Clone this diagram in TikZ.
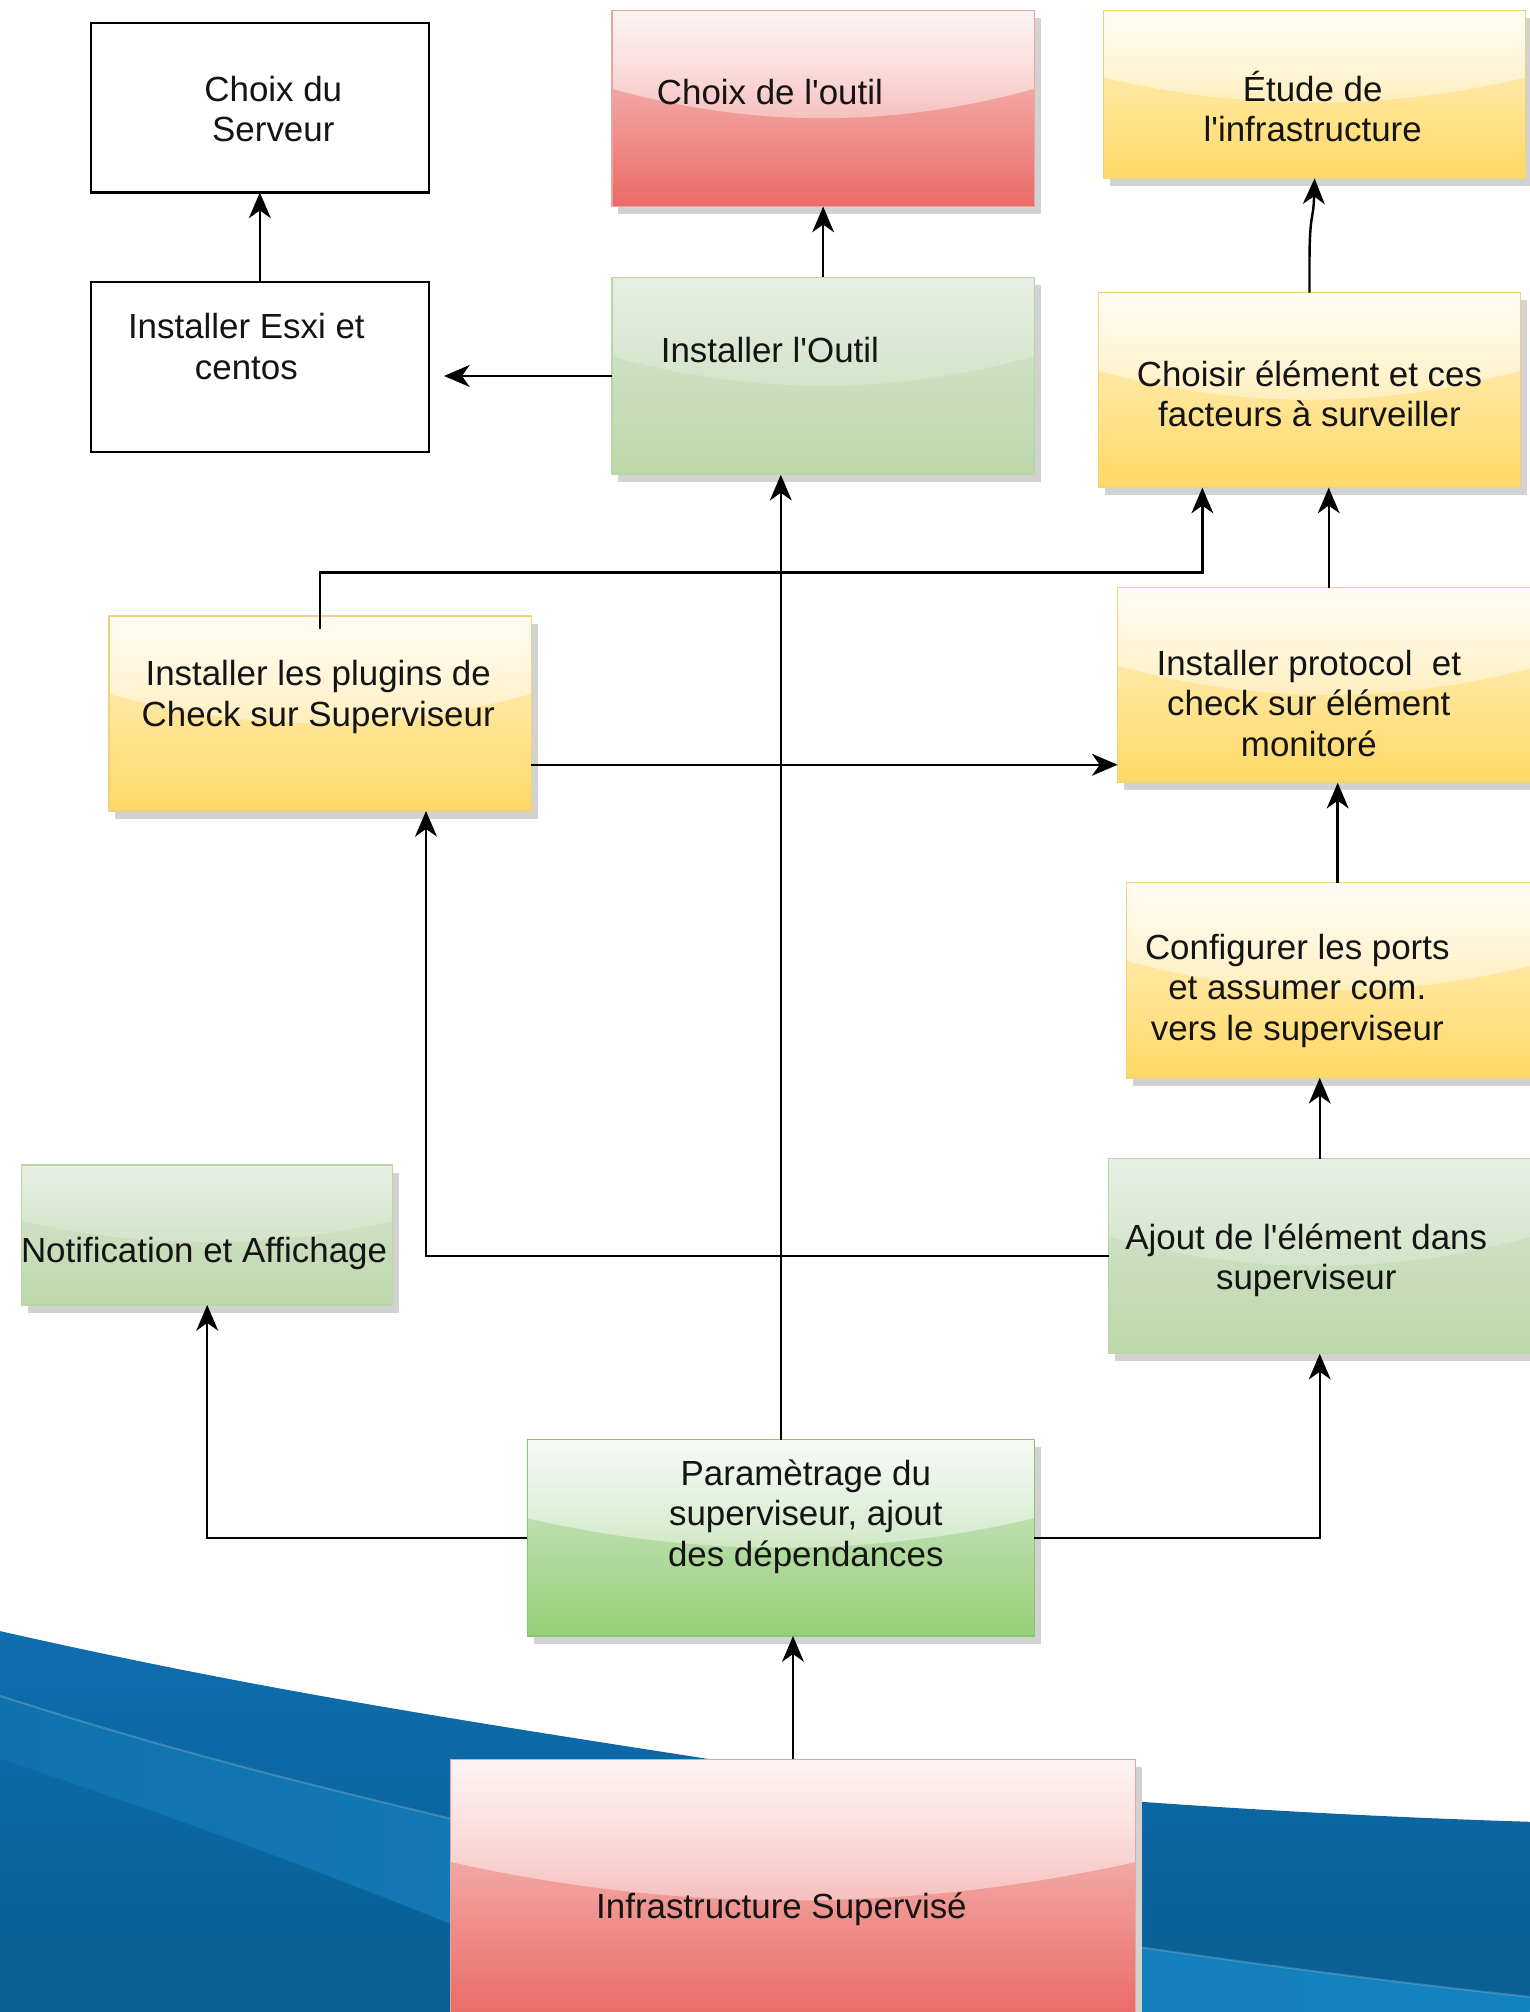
\documentclass[tikz,border=0pt]{standalone}
\usepackage{fontspec}
\setmainfont{Liberation Sans}
\usetikzlibrary{calc,arrows.meta,shadows,fadings}

% box colours (top of gradient, bottom of gradient, border)
\definecolor{redA}{HTML}{F8CECC}
\definecolor{redB}{HTML}{EA6B66}
\definecolor{redLine}{HTML}{E8A4A1}
\definecolor{yelA}{HTML}{FFF2CC}
\definecolor{yelB}{HTML}{FFD966}
\definecolor{yelLine}{HTML}{EED27E}
\definecolor{grnA}{HTML}{D5E8D4}
\definecolor{grnB}{HTML}{97D077}
\definecolor{grnLine}{HTML}{8DC073}
\definecolor{paleA}{HTML}{DAE5D5}
\definecolor{paleB}{HTML}{BCD8AA}
\definecolor{paleLine}{HTML}{B6D6A4}
\definecolor{shadowgrey}{HTML}{D2D2D2}
% background wave
\definecolor{seaTop}{HTML}{0E6EAF}
\definecolor{seaBot}{HTML}{0A5D91}
\definecolor{bandL}{HTML}{1173AD}
\definecolor{bandR}{HTML}{1383BF}

\tikzfading[name=glassfade, top color=transparent!10, bottom color=transparent!90]

\tikzset{
  base/.style={rectangle, inner sep=0pt, outer sep=0pt},
  plainbox/.style={base, draw=black, line width=0.8pt, fill=white},
  glassbox/.style n args={3}{base, draw=#3, line width=0.5pt,
    top color=#1, bottom color=#2,
    drop shadow={fill=shadowgrey, opacity=1, shadow xshift=2.5pt, shadow yshift=-3pt}},
  glass/.style={path picture={
    \fill[white, path fading=glassfade, fill opacity=#1]
      let \p1=(path picture bounding box.south west),
          \p2=(path picture bounding box.north east) in
      (\x1,\y2) -- (\x2,\y2) -- (\x2,{\y2-0.4*(\y2-\y1)})
      .. controls ({\x2-(\x2-\x1)/3},{\y2-0.6*(\y2-\y1)})
             and ({\x1+(\x2-\x1)/3},{\y2-0.6*(\y2-\y1)}) ..
      (\x1,{\y2-0.4*(\y2-\y1)}) -- cycle;
  }},
  redbox/.style={glassbox={redA}{redB}{redLine}, glass=0.85},
  yelbox/.style={glassbox={yelA}{yelB}{yelLine}, glass=0.85},
  grnbox/.style={glassbox={grnA}{grnB}{grnLine}, glass=0.85},
  palebox/.style={glassbox={paleA}{paleB}{paleLine}, glass=0.4},
  caption/.style={font=\fontsize{13.6}{15.8}\selectfont, align=center,
    text=black!92, inner sep=0pt},
  link/.style={line width=0.95pt, -{Stealth[length=10pt,width=8.5pt,inset=3pt]}},
}

\begin{document}
\begin{tikzpicture}[x=0.5pt, y=-0.5pt]
\useasboundingbox (0,0) rectangle (1192,1568);

% blue wave at the foot of the page
\begin{scope}
  \clip (0,0) rectangle (1192,1568);
  \shade[top color=seaTop, bottom color=seaBot]
    (-5,1270) .. controls (180,1312) and (320,1335) .. (560,1372)
    .. controls (760,1398) and (1000,1414) .. (1200,1420)
    -- (1200,1580) -- (-5,1580) -- cycle;
  \shade[left color=bandL, right color=bandR]
    (-5,1320) .. controls (150,1370) and (260,1395) .. (358,1419)
    .. controls (600,1475) and (900,1525) .. (1200,1557)
    -- (1200,1650) -- (700,1650)
    .. controls (420,1520) and (180,1430) .. (-5,1369) -- cycle;
  \draw[white, opacity=0.18, line width=0.8pt]
    (-5,1320) .. controls (150,1370) and (260,1395) .. (358,1419)
    .. controls (600,1475) and (900,1525) .. (1200,1557);
\end{scope}

% steps
\node[plainbox, minimum width=131.5pt, minimum height=66pt,
  label={[caption, xshift=5.25pt, yshift=-0.5pt]center:Choix du\\Serveur}]
  (serveur) at (202.5,84) {};
\node[plainbox, minimum width=131.5pt, minimum height=66pt,
  label={[caption, xshift=-5.25pt, yshift=8pt]center:Installer Esxi et\\centos}]
  (esxi) at (202.5,286) {};
\node[redbox, minimum width=164.5pt, minimum height=76.5pt,
  label={[caption, xshift=-20.75pt, yshift=6.25pt]center:Choix de l\textquotesingle outil}]
  (choixoutil) at (641.5,84.5) {};
\node[palebox, minimum width=164.5pt, minimum height=77pt,
  label={[caption, xshift=-20.75pt, yshift=10pt]center:Installer l\textquotesingle Outil}]
  (instoutil) at (641.5,293) {};
\node[yelbox, minimum width=164.5pt, minimum height=65.5pt,
  label={[caption, xshift=-0.75pt, yshift=-4.75pt]center:Étude de\\l\textquotesingle infrastructure}]
  (etude) at (1024.5,73.5) {};
\node[yelbox, minimum width=164.5pt, minimum height=76pt,
  label={[caption, xshift=0pt, yshift=-1.5pt]center:Choisir élément et ces\\facteurs à surveiller}]
  (choisir) at (1020.5,304) {};
\node[yelbox, minimum width=164.5pt, minimum height=76pt,
  label={[caption, xshift=-0.75pt, yshift=6.5pt]center:Installer les plugins de\\Check sur Superviseur}]
  (plugins) at (249.5,556) {};
\node[yelbox, minimum width=164.5pt, minimum height=76pt,
  label={[caption, xshift=-7.75pt, yshift=-7pt]center:Installer protocol\ \ et\\check sur élément\\monitoré}]
  (protocol) at (1035.5,534) {};
\node[yelbox, minimum width=164.5pt, minimum height=76pt,
  label={[caption, xshift=-15.75pt, yshift=-4pt]center:Configurer les ports\\et assumer com.\\vers le superviseur}]
  (config) at (1042.5,764) {};
\node[palebox, minimum width=144.5pt, minimum height=54.5pt,
  label={[caption, xshift=-1.25pt, yshift=-7.25pt]center:Notification et Affichage}]
  (notif) at (161.5,962.5) {};
\node[palebox, minimum width=164.5pt, minimum height=76pt,
  label={[caption, xshift=-5.25pt, yshift=-1.5pt]center:Ajout de l\textquotesingle élément dans\\superviseur}]
  (ajout) at (1028.5,979) {};
\node[grnbox, minimum width=197.5pt, minimum height=76.5pt,
  label={[caption, xshift=9.75pt, yshift=8.25pt]center:Paramètrage du\\superviseur, ajout\\des dépendances}]
  (param) at (608.5,1198.5) {};
\node[redbox, minimum width=267pt, minimum height=100pt,
  label={[caption, xshift=-4.5pt, yshift=-8.5pt]center:Infrastructure Supervisé}]
  (infra) at (618,1471) {};

% routing helpers
\coordinate (rowA) at (0,596);
\coordinate (rowB) at (0,446);
\coordinate (colA) at (332,0);
\coordinate (colB) at (937,0);
\coordinate (esxiIn) at ($(esxi.east |- instoutil.west)+(12,0)$);
\coordinate (pluginsTop) at ($(plugins.north)+(0,10)$);

% connectors
\draw[link] (esxi.north) -- (serveur.south);
\draw[link] (instoutil.west) -- (esxiIn);
\draw[link] (instoutil.north) -- (choixoutil.south);
\draw[link] (choisir.north) -- ++(0,-20) .. controls +(0,-45) and +(-1,35) .. (etude.south);
\draw[link] (pluginsTop) -- (pluginsTop |- rowB) -| (colB |- choisir.south);
\draw[link] (protocol.north) -- (protocol.north |- choisir.south);
\draw[link] (plugins.east |- rowA) -- (protocol.west |- rowA);
\draw[link] (param.north) -- (param.north |- instoutil.south);
\draw[link] (config.north) -- (config.north |- protocol.south);
\draw[link] (ajout.north) -- (ajout.north |- config.south);
\draw[link] (ajout.west) -| (colA |- plugins.south);
\draw[link] (param.west) -| (notif.south);
\draw[link] (param.east) -| (ajout.south);
\draw[link] (infra.north) -- (infra.north |- param.south);
\end{tikzpicture}
\end{document}
